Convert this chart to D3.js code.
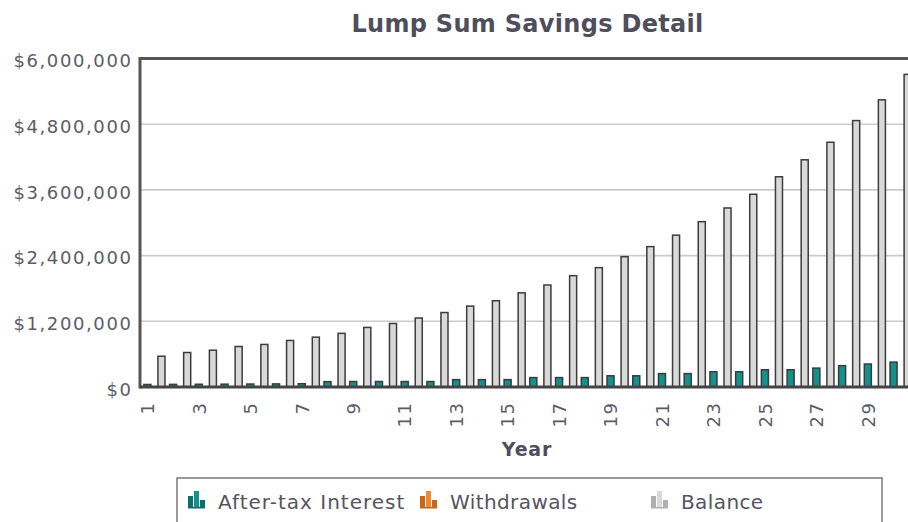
<!DOCTYPE html>
<html><head><meta charset="utf-8">
<script src="https://cdn.jsdelivr.net/npm/d3@7"></script>
<style>body{margin:0;background:#fff;overflow:hidden} svg{display:block;font-family:"DejaVu Sans",Verdana,sans-serif}</style>
</head><body><svg id="c" width="908" height="522"></svg>
<script>
const years = [1,2,3,4,5,6,7,8,9,10,11,12,13,14,15,16,17,18,19,20,21,22,23,24,25,26,27,28,29,30];
const interest = [46000,48000,50000,52000,54000,57000,60000,98000,100000,100000,100000,100000,135000,135000,135000,172000,172000,172000,205000,205000,245000,245000,278000,278000,315000,315000,345000,390000,420000,455000];
const withdrawals = [0,0,0,0,0,0,0,0,0,0,0,0,0,0,0,0,0,0,0,0,0,0,0,0,0,0,0,0,0,0];
const balance = [562000,630000,672000,740000,777000,850000,910000,980000,1088000,1160000,1260000,1360000,1478000,1575000,1720000,1863000,2033000,2180000,2380000,2564000,2773000,3020000,3270000,3520000,3840000,4150000,4470000,4866000,5245000,5710000];
const yTicks = [0,1200000,2400000,3600000,4800000,6000000];
const xTickLabels = [1,3,5,7,9,11,13,15,17,19,21,23,25,27,29];
const seriesNames = ["After-tax Interest","Withdrawals","Balance"];
const seriesColors = ["#13918d","#ef8a2e","#d9d9d9"];
const seriesDark = ["#0c6f6b","#c8661a","#b0b0b0"];

const svg = d3.select("#c");
const L = 140, R = 915, T = 58.5, B = 387;
const x = d3.scaleBand().domain(years).range([L, R]).paddingInner(0.18).paddingOuter(0.15);
const x1 = d3.scaleBand().domain([0,1,2]).range([0, x.bandwidth()]);
const y = d3.scaleLinear().domain([0, 6000000]).range([B, T]);
const fmt = d => "$" + d3.format(",")(d);

// title
svg.append("text").attr("x", 527.5).attr("y", 31.5).attr("text-anchor","middle")
  .attr("font-size", 24).attr("font-weight","bold").attr("letter-spacing", 0.3).attr("fill","#4e4e5c").text("Lump Sum Savings Detail");

// gridlines
svg.append("g").selectAll("line").data(yTicks.filter(d => d > 0 && d < 6000000)).join("line")
  .attr("x1", L).attr("x2", R).attr("y1", d => y(d)).attr("y2", d => y(d))
  .attr("stroke", "#cbcbcb").attr("stroke-width", 1.6);

// y axis labels
const yAxis = d3.axisLeft(y).tickValues(yTicks).tickFormat(fmt).tickSize(0).tickPadding(7.5);
const gy = svg.append("g").attr("transform", `translate(${L},0)`).call(yAxis);
gy.select(".domain").remove();
gy.selectAll("text").attr("font-size", 18).attr("fill", "#5c5c68").attr("font-family", "DejaVu Sans")
  .attr("letter-spacing", 1.6).attr("dy", "0.45em");

// bars
const series = [interest, withdrawals, balance];
series.forEach((vals, si) => {
  svg.append("g").selectAll("rect").data(years).join("rect")
    .attr("x", (d) => x(d) + x1(si))
    .attr("width", x1.bandwidth())
    .attr("y", (d, i) => y(vals[i]))
    .attr("height", (d, i) => B - y(vals[i]))
    .attr("fill", seriesColors[si])
    .attr("stroke", vals.some(v => v > 0) ? "#3c3c3c" : "none")
    .attr("stroke-width", 1.5);
});

// frame
svg.append("line").attr("x1", L).attr("x2", 920).attr("y1", T).attr("y2", T).attr("stroke", "#555").attr("stroke-width", 3);
svg.append("line").attr("x1", L).attr("x2", L).attr("y1", T - 1.5).attr("y2", B + 1.5).attr("stroke", "#555").attr("stroke-width", 3);
svg.append("line").attr("x1", L).attr("x2", 920).attr("y1", B).attr("y2", B).attr("stroke", "#444").attr("stroke-width", 3);

// x axis labels
const xAxis = d3.axisBottom(x).tickValues(xTickLabels).tickSize(0).tickPadding(0);
const gx = svg.append("g").attr("transform", `translate(0,${B})`).call(xAxis);
gx.select(".domain").remove();
gx.selectAll(".tick").attr("transform", d => `translate(${x(d) + 4},0)`);
gx.selectAll("text").attr("font-size", 18).attr("fill", "#5c5c68").attr("font-family", "DejaVu Sans")
  .attr("letter-spacing", 1.5)
  .attr("text-anchor", "end").attr("transform", "translate(0,14.5) rotate(-90)").attr("x", 0).attr("y", 0).attr("dy", "0.35em");

// x axis title
svg.append("text").attr("x", 527).attr("y", 455.5).attr("text-anchor","middle")
  .attr("font-size", 19).attr("font-weight","bold").attr("letter-spacing", 0.8).attr("fill","#4e4e5c").text("Year");

// legend
const lg = svg.append("g");
lg.append("rect").attr("x", 177).attr("y", 478).attr("width", 705).attr("height", 70)
  .attr("fill", "#fff").attr("stroke", "#7a7a7a").attr("stroke-width", 1.5);
const itemX = [188, 420, 651];
const itemSpacing = [1.0, 0.4, 0.4];
seriesNames.forEach((name, i) => {
  const g = lg.append("g").attr("transform", `translate(${itemX[i]},491)`);
  const hs = [12, 17, 8];
  hs.forEach((h, k) => {
    g.append("rect").attr("x", k * 6).attr("y", 17 - h).attr("width", 5).attr("height", h)
      .attr("fill", k === 1 ? seriesColors[i] : seriesDark[i]);
  });
  g.append("rect").attr("x", 0).attr("y", 16).attr("width", 17).attr("height", 1.5).attr("fill", seriesDark[i]);
  lg.append("text").attr("x", itemX[i] + 30).attr("y", 509).attr("font-size", 20).attr("letter-spacing", itemSpacing[i])
    .attr("fill", "#545462").text(name);
});
</script></body></html>
